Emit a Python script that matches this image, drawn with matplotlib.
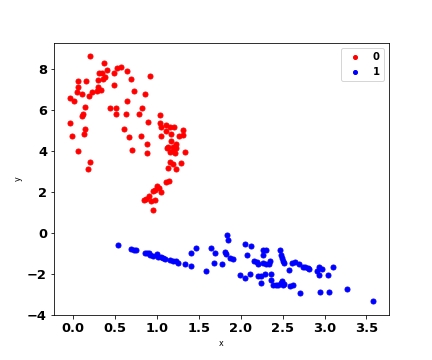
import matplotlib
matplotlib.use("Agg")
import matplotlib.pyplot as plt

# class 0 (red)
x0 = [0.20, 0.37, 0.31, 0.34, 0.40, 0.52, 0.57, 0.64, 0.49, 0.38, 0.36, 0.92,
      0.06, 0.15, 0.30, 0.69, 0.49, 0.06, 0.30, 0.05, 0.11, 0.22, 0.19, 0.28,
      0.33, 0.73, 0.86, -0.04, 0.01, 0.64, 0.14, 0.44, 0.51, 0.82, 0.12, 0.11,
      0.51, 0.63, 0.79, 1.04, -0.04, 0.89, 1.04, 1.05, 1.11, 1.15, 1.20, 0.14,
      0.13, 0.61, 1.11, 1.17, 1.31, 1.31, 1.26, -0.01, 0.66, 0.81, 1.05, 1.17,
      0.88, 1.23, 1.13, 1.12, 1.19, 1.23, 0.06, 0.70, 0.88, 1.15, 1.19, 1.21,
      1.33, 0.20, 0.17, 1.15, 1.19, 1.13, 1.23, 1.29, 1.11, 1.14, 1.00, 1.02,
      0.97, 0.95, 1.05, 0.90, 0.85, 0.87, 0.93, 0.98, 0.95]
y0 = [8.65, 8.29, 7.80, 7.80, 7.97, 8.05, 8.10, 7.92, 7.80, 7.64, 7.53, 7.67,
      7.41, 7.41, 7.45, 7.51, 7.23, 7.12, 7.15, 6.88, 6.80, 6.88, 6.70, 6.94,
      6.98, 6.94, 6.80, 6.58, 6.44, 6.44, 6.15, 6.10, 6.10, 6.10, 5.79, 5.71,
      5.82, 5.82, 5.82, 5.76, 5.38, 5.43, 5.37, 5.17, 5.27, 5.17, 5.17, 5.07,
      4.83, 5.07, 4.96, 4.83, 5.02, 4.78, 4.76, 4.73, 4.68, 4.73, 4.73, 4.50,
      4.34, 4.34, 4.22, 4.15, 4.20, 4.15, 4.01, 4.06, 3.90, 3.95, 4.01, 3.93,
      3.95, 3.46, 3.12, 3.46, 3.37, 3.17, 3.12, 3.41, 2.49, 2.54, 2.29, 2.20,
      2.11, 2.03, 2.00, 1.79, 1.62, 1.66, 1.56, 1.61, 1.12]

# class 1 (blue)
x1 = [0.53, 0.69, 0.72, 0.75, 0.86, 0.88, 0.91, 0.92, 0.95, 1.00, 1.01, 1.05,
      1.07, 1.09, 1.15, 1.19, 1.23, 1.25, 1.34, 1.40, 1.40, 1.47, 1.58, 1.65,
      1.69, 1.68, 1.78, 1.81, 1.82, 1.84, 1.85, 1.87, 1.91, 1.99, 2.05, 2.05,
      2.08, 2.12, 2.11, 2.16, 2.19, 2.20, 2.20, 2.24, 2.29, 2.24, 2.26, 2.27,
      2.30, 2.27, 2.30, 2.34, 2.35, 2.36, 2.36, 2.39, 2.42, 2.45, 2.48, 2.49,
      2.51, 2.52, 2.47, 2.48, 2.49, 2.51, 2.52, 2.57, 2.61, 2.65, 2.69, 2.59,
      2.62, 2.71, 2.74, 2.77, 2.80, 2.82, 2.91, 2.94, 2.94, 2.97, 3.04, 3.10,
      2.95, 3.05, 3.27, 3.58]
y1 = [-0.59, -0.78, -0.81, -0.83, -0.98, -0.99, -0.98, -1.07, -1.11, -1.02, -1.16, -1.17,
      -1.24, -1.27, -1.30, -1.34, -1.34, -1.46, -1.51, -1.61, -0.98, -0.73, -1.85, -0.73,
      -0.98, -1.46, -1.51, -0.90, -1.01, -0.10, -0.34, -1.22, -1.27, -2.05, -2.20, -0.54,
      -1.07, -0.63, -2.00, -1.37, -1.41, -1.51, -2.10, -2.10, -2.00, -2.44, -1.07, -0.83,
      -0.83, -1.46, -1.51, -1.51, -1.37, -2.00, -2.29, -2.54, -2.54, -2.54, -2.44, -2.34,
      -2.52, -2.47, -0.83, -1.07, -1.22, -1.37, -1.46, -1.80, -1.46, -1.41, -1.51, -2.60,
      -2.52, -2.93, -1.66, -1.66, -1.71, -1.76, -1.85, -1.66, -2.03, -1.76, -2.05, -1.66,
      -2.88, -2.88, -2.73, -3.32]

fig = plt.figure(figsize=(6, 5), dpi=72)
ax = fig.add_axes([54 / 432, 45 / 360, 335 / 432, 272 / 360])
ax.scatter(x0, y0, s=25, color="red", label="0")
ax.scatter(x1, y1, s=25, color="blue", label="1")
ax.set_xlim(-0.23, 3.77)
ax.set_ylim(-4.0, 9.28)
ax.set_xlabel("x", fontsize=8)
ax.set_ylabel("y", fontsize=8)
for lab in ax.get_xticklabels() + ax.get_yticklabels():
    lab.set_fontweight("bold")
    lab.set_fontsize(13)
ax.legend(loc="upper right", prop={"weight": "bold", "size": 10}, markerscale=0.8)

fig.savefig("out.png", dpi=72)
